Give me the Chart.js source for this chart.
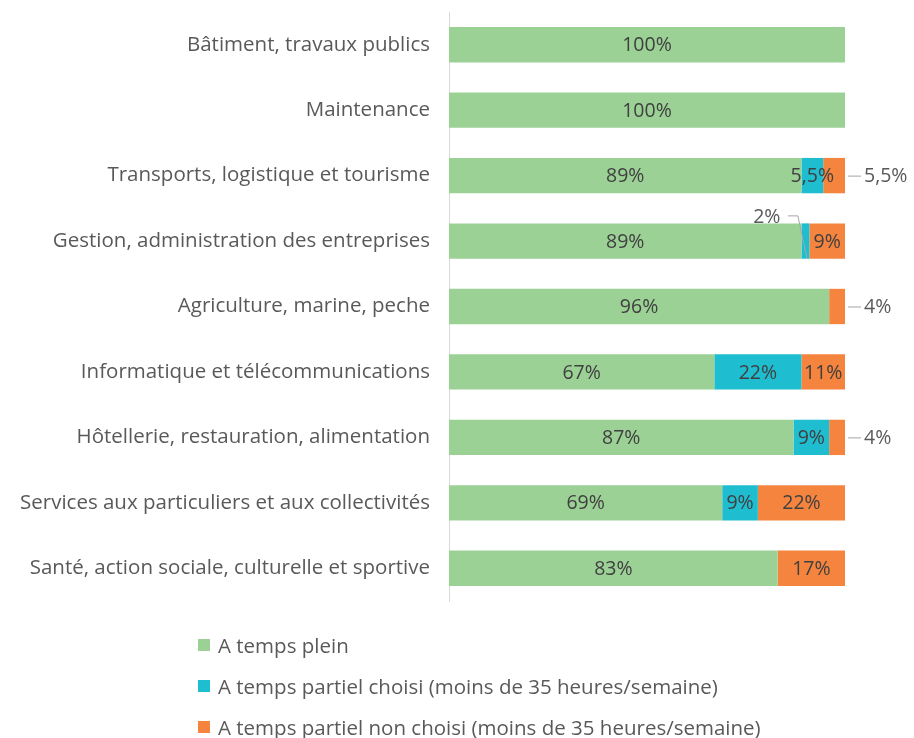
<!DOCTYPE html>
<html><head><meta charset="utf-8">
<script src="https://cdn.jsdelivr.net/npm/chart.js@4/dist/chart.umd.min.js"></script>
<style>
html,body{margin:0;padding:0;background:#fff;overflow:hidden;}
#wrap{position:relative;width:914px;height:738px;overflow:hidden;}
#legend{position:absolute;left:198px;top:624px;font-family:"Open Sans",sans-serif;font-size:20.5px;color:#595959;line-height:24px;}
.item{height:41px;display:flex;align-items:center;white-space:nowrap;}
.box{width:12px;height:12px;margin-right:8px;display:inline-block;flex:none;}
</style>
</head><body>
<div id="wrap"><canvas id="c" width="914" height="738"></canvas><div id="legend"></div></div>
<script>
const categories = [
  "Bâtiment, travaux publics",
  "Maintenance",
  "Transports, logistique et tourisme",
  "Gestion, administration des entreprises",
  "Agriculture, marine, peche",
  "Informatique et télécommunications",
  "Hôtellerie, restauration, alimentation",
  "Services aux particuliers et aux collectivités",
  "Santé, action sociale, culturelle et sportive"
];
const seriesNames = [
  "A temps plein",
  "A temps partiel choisi (moins de 35 heures/semaine)",
  "A temps partiel non choisi (moins de 35 heures/semaine)"
];
const tempsPlein = [100, 100, 89, 89, 96, 67, 87, 69, 83];
const partielChoisi = [0, 0, 5.5, 2, 0, 22, 9, 9, 0];
const partielNonChoisi = [0, 0, 5.5, 9, 4, 11, 4, 22, 17];
const colors = ["#9CD196", "#1EBDD0", "#F5843E"];
const FONT = "Open Sans";
const TXT = "#404040";
const LBL = "#595959";

const fmt = v => String(v).replace(".", ",") + "%";

const labelPlugin = {
  id: "barLabels",
  afterDatasetsDraw(chart) {
    const ctx = chart.ctx;
    ctx.save();
    ctx.font = "19.5px '" + FONT + "'";
    ctx.textBaseline = "middle";
    chart.data.datasets.forEach((ds, i) => {
      const meta = chart.getDatasetMeta(i);
      meta.data.forEach((el, j) => {
        const v = ds.data[j];
        if (!v) return;
        const left = Math.min(el.x, el.base), right = Math.max(el.x, el.base);
        const y = el.y;
        if (i === 2 && v < 6) {
          ctx.strokeStyle = "#a6a6a6"; ctx.lineWidth = 1;
          ctx.beginPath(); ctx.moveTo(right + 3, y + 0.5); ctx.lineTo(right + 16, y + 0.5); ctx.stroke();
          ctx.textAlign = "left"; ctx.fillStyle = LBL;
          ctx.fillText(fmt(v), right + 19, y + 1);
        } else if (i === 1 && v < 3) {
          const top = y - el.height / 2;
          const cx = (left + right) / 2;
          ctx.strokeStyle = "#a6a6a6"; ctx.lineWidth = 1;
          ctx.beginPath();
          ctx.moveTo(cx - 17.5, top - 7.5); ctx.lineTo(cx - 7.5, top - 7.5); ctx.lineTo(cx + 1.5, y + 17);
          ctx.stroke();
          ctx.textAlign = "right"; ctx.fillStyle = LBL;
          ctx.fillText(fmt(v), cx - 25, top - 6);
        } else {
          ctx.textAlign = "center"; ctx.fillStyle = TXT;
          ctx.fillText(fmt(v), (left + right) / 2, y + 1);
        }
      });
    });
    ctx.restore();
  }
};

new Chart(document.getElementById("c"), {
  type: "bar",
  data: {
    labels: categories,
    datasets: [tempsPlein, partielChoisi, partielNonChoisi].map((d, i) => ({
      label: seriesNames[i], data: d, backgroundColor: colors[i],
      barPercentage: 0.54, categoryPercentage: 1, borderWidth: 0
    }))
  },
  options: {
    indexAxis: "y",
    responsive: false,
    animation: false,
    layout: { padding: { top: 12, bottom: 137, right: 69, left: 0 } },
    plugins: { legend: { display: false }, tooltip: { enabled: false } },
    scales: {
      x: { stacked: true, min: 0, max: 100, display: false },
      y: {
        stacked: true,
        grid: { display: false, drawTicks: false },
        border: { color: "#d9d9d9", width: 1 },
        ticks: { color: LBL, font: { family: FONT, size: 20.5 }, padding: 19 },
        afterFit(s) { s.width = 449; s.paddingTop = 0; s.paddingBottom = 0; }
      }
    }
  },
  plugins: [labelPlugin]
});

const leg = document.getElementById("legend");
seriesNames.forEach((n, i) => {
  const d = document.createElement("div"); d.className = "item";
  const b = document.createElement("span"); b.className = "box"; b.style.background = colors[i];
  d.appendChild(b); d.appendChild(document.createTextNode(n)); leg.appendChild(d);
});
</script>
</body></html>
